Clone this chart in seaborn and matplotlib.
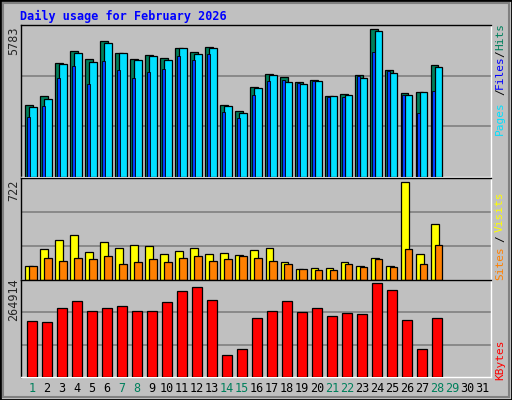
import matplotlib
matplotlib.use("Agg")
import matplotlib.pyplot as plt
import seaborn as sns
import pandas as pd
from matplotlib.patches import Rectangle

days = list(range(1, 29))
all_days = [str(d) for d in range(1, 32)]
weekend = [1, 7, 8, 14, 15, 21, 22, 28, 29]
hits = [2801, 3154, 4460, 4919, 4605, 5312, 4853, 4605, 4763, 4645, 5037, 4880, 5076, 2801,
        2566, 3507, 4017, 3911, 3703, 3782, 3154, 3233, 3978, 5783, 4174, 3272, 3311, 4370]
files = [2723, 3036, 4409, 4841, 4488, 5233, 4841, 4566, 4723, 4566, 5037, 4802, 5037, 2762,
         2487, 3468, 3978, 3703, 3625, 3743, 3154, 3193, 3860, 5704, 4056, 3193, 3311, 4292]
pages = [2369, 2762, 3860, 4331, 3625, 4527, 4174, 3860, 4096, 4213, 4723, 4566, 4802, 2526,
         2291, 3193, 3743, 3782, 3664, 3743, 3115, 3115, 3939, 4880, 4135, 3193, 2487, 3350]
visits = [104, 229, 292, 331, 206, 276, 237, 260, 253, 190, 214, 237, 190, 198,
          182, 221, 237, 135, 81, 88, 88, 135, 104, 159, 104, 722, 190, 409]
sites = [104, 159, 143, 159, 151, 174, 120, 135, 151, 135, 159, 174, 143, 151,
         174, 159, 143, 120, 81, 73, 73, 120, 96, 151, 96, 229, 120, 260]
kbytes = [157600, 154700, 195300, 215600, 186600, 195300, 201100, 186600, 186600, 212700,
          244600, 256300, 218500, 61800, 79200, 166300, 186600, 215600, 183700, 195300,
          172100, 180800, 177900, 264914, 247500, 160500, 79200, 166300]

sns.set_style("white")
plt.rcParams['font.family'] = ['DejaVu Sans Mono', 'DejaVu Sans']
BG = "#C0C0C0"
fig = plt.figure(figsize=(5.12, 4.0), dpi=100, facecolor=BG)
fig.patches.append(Rectangle((0, 0), 1, 1, transform=fig.transFigure, fill=False,
                             edgecolor="black", lw=2))
fig.patches.append(Rectangle((0.006, 0.008), 0.988, 0.984, transform=fig.transFigure, fill=False,
                             edgecolor="#808080", lw=1.5))

L, W = 20.5 / 512, 470.5 / 512
ax1 = fig.add_axes([L, 1 - 177 / 400, W, 152 / 400])
ax2 = fig.add_axes([L, 1 - 280 / 400, W, 102 / 400])
ax3 = fig.add_axes([L, 1 - 377 / 400, W, 97 / 400])

idx = [d - 1 for d in days]
XL = (-0.75, 30.6)

def style(ax, ymax):
    ax.set_facecolor(BG)
    ax.set_xlim(*XL)
    ax.set_ylim(0, ymax)
    for y in (ymax / 3, 2 * ymax / 3):
        ax.axhline(y, color="#808080", lw=1.2, zorder=0)
    ax.set_yticks([])
    ax.set_xticks([])
    ax.set_ylabel("")
    ax.set_xlabel("")
    for s in ax.spines.values():
        s.set_color("black")
        s.set_linewidth(1)
    ax.spines['bottom'].set_color("white")
    ax.spines['right'].set_color("white")

ek = dict(edgecolor="black", linewidth=0.9, zorder=3)
ax1.bar([i - 0.18 for i in idx], hits, width=0.5, color="#00805C", **ek)
ax1.bar([i + 0.09 for i in idx], files, width=0.5, color="#00E0FF", **ek)
ax1.bar([i - 0.23 for i in idx], pages, width=0.2, color="#0040FF", edgecolor="black",
        linewidth=0.6, zorder=4)
style(ax1, 5952)

ax2.bar([i - 0.16 for i in idx], visits, width=0.53, color="#FFFF00", **ek)
ax2.bar([i + 0.09 for i in idx], sites, width=0.5, color="#FF8000", **ek)
style(ax2, 750)

df = pd.DataFrame({"day": [str(d) for d in days], "kbytes": kbytes})
sns.barplot(data=df, x="day", y="kbytes", order=all_days, color="#FF0000",
            saturation=1, width=0.66, edgecolor="black", linewidth=0.9, ax=ax3, zorder=3)
style(ax3, 274800)

for d in range(1, 32):
    fig.text(L + (d - 1 - XL[0]) / (XL[1] - XL[0]) * W, 1 - 388 / 400, str(d),
             ha="center", va="center", fontsize=8.5,
             color="#00805C" if d in weekend else "black")

fig.text(20 / 512, 1 - 16 / 400, "Daily usage for February 2026", color="#0000FF",
         fontsize=8.5, fontweight="bold", va="center", ha="left")

def ylab(y, s):
    fig.text(14 / 512, 1 - y / 400, s, rotation=90, ha="center", va="center", fontsize=8.5)
ylab(41, "5783")
ylab(190, "722")
ylab(300, "264914")

def rlab(y, s, c):
    fig.text(500 / 512, 1 - y / 400, s, rotation=90, ha="center", va="center",
             fontsize=8, color=c)
rlab(36, "Hits", "#00805C")
rlab(54, "/", "black")
rlab(72, "Files", "#0000FF")
rlab(92, "/", "black")
rlab(118, "Pages", "#00E0FF")
rlab(212, "Visits", "#FFFF00")
rlab(239, "/", "black")
rlab(263, "Sites", "#FF8000")
rlab(360, "KBytes", "#FF0000")

fig.savefig("out.png", dpi=100, facecolor=BG)
